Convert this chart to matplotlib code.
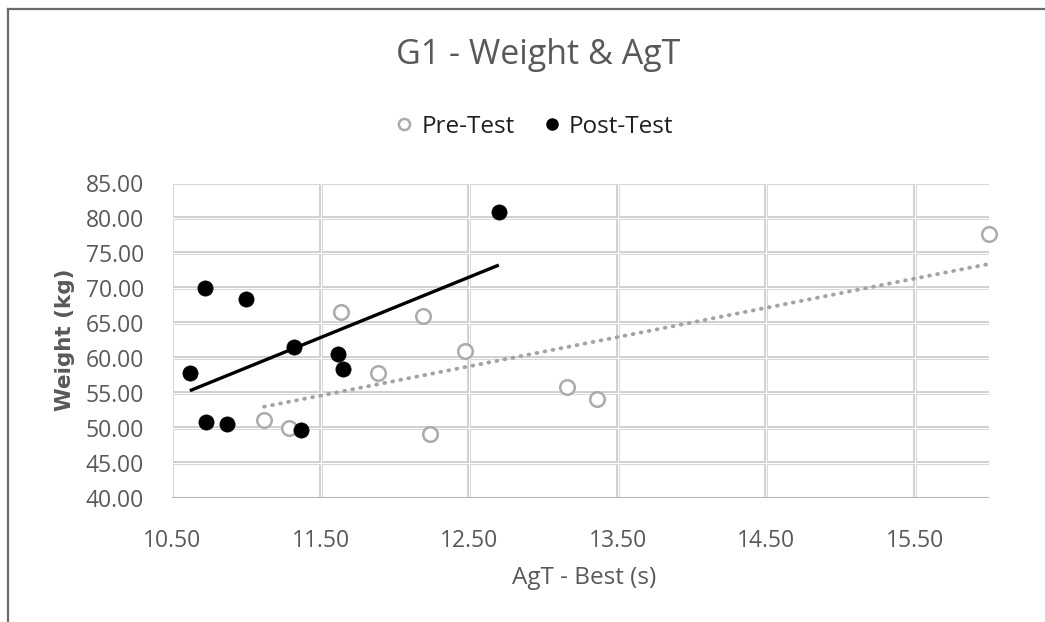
import matplotlib
matplotlib.use("Agg")
import matplotlib.pyplot as plt
import numpy as np
from matplotlib.lines import Line2D

plt.rcParams['font.family'] = ['Open Sans', 'DejaVu Sans']

# Data
pre_x = [11.64, 12.19, 12.47, 11.89, 11.12, 11.29, 12.24, 13.16, 13.36, 16.00]
pre_y = [66.6, 66.05, 61.05, 57.8, 51.2, 50.0, 49.1, 55.9, 54.2, 77.7]
post_x = [12.70, 10.72, 11.00, 11.32, 10.62, 11.62, 11.65, 10.73, 10.87, 11.37]
post_y = [80.8, 70.0, 68.4, 61.5, 57.8, 60.5, 58.4, 50.8, 50.6, 49.7]
x_ticks = [10.5, 11.5, 12.5, 13.5, 14.5, 15.5]
y_ticks = [40, 45, 50, 55, 60, 65, 70, 75, 80, 85]
title = "G1 - Weight & AgT"
x_label = "AgT - Best (s)"
y_label = "Weight (kg)"
series_names = ["Pre-Test", "Post-Test"]

W, H = 1045, 622
fig = plt.figure(figsize=(W / 100, H / 100), dpi=100)
fig.patch.set_facecolor("white")

# outer chart border (top and left visible)
fig.add_artist(Line2D([7.5 / W, 7.5 / W], [0, 1 - 8.5 / H], transform=fig.transFigure,
                      color="#6b6b6b", lw=1.6))
fig.add_artist(Line2D([7.5 / W, 1], [1 - 8.5 / H, 1 - 8.5 / H], transform=fig.transFigure,
                      color="#6b6b6b", lw=1.6))

ax = fig.add_axes([172 / W, 1 - 498 / H, (989 - 172) / W, (498 - 183) / H])
ax.set_xlim(10.5, 16.0)
ax.set_ylim(40, 85)
for s in ax.spines.values():
    s.set_visible(False)

grid_gray = "#c9c9c9"
# double-line grid: thick gray then thin white
for yv in y_ticks[1:]:
    ax.axhline(yv, color=grid_gray, lw=2.6, zorder=0.5)
for xv in x_ticks:
    ax.axvline(xv, color=grid_gray, lw=2.6, zorder=0.5)
for yv in y_ticks[1:]:
    ax.axhline(yv, color="white", lw=0.9, zorder=0.6)
for xv in x_ticks:
    ax.axvline(xv, color="white", lw=0.9, zorder=0.6)
ax.axhline(40, color="#b4b4b4", lw=2.2, zorder=0.7)

ax.set_xticks(x_ticks)
ax.set_yticks(y_ticks)
ax.set_xticklabels([f"{v:.2f}" for v in x_ticks])
ax.set_yticklabels([f"{v:.2f}" for v in y_ticks])
ax.tick_params(length=0, labelsize=16.5, labelcolor="#595959")
ax.tick_params(axis="x", pad=22)
ax.tick_params(axis="y", pad=20)

# trendlines
pp = np.polyfit(pre_x, pre_y, 1)
xx = np.array([min(pre_x), max(pre_x)])
ax.plot(xx, np.polyval(pp, xx), color="#a3a3a3", lw=2.8, ls=(0, (0.2, 1.9)),
        dash_capstyle="round", zorder=2, clip_on=False)
pq = np.polyfit(post_x, post_y, 1)
xx = np.array([min(post_x), max(post_x)])
ax.plot(xx, np.polyval(pq, xx), color="black", lw=2.4, solid_capstyle="butt", zorder=2)

ax.scatter(pre_x, pre_y, s=110, facecolor="white", edgecolor="#ababab", linewidth=1.8,
           zorder=3, clip_on=False)
ax.scatter(post_x, post_y, s=120, facecolor="black", edgecolor="black", linewidth=0.5,
           zorder=4, clip_on=False)

fig.text(538 / W, 1 - 55 / H, title, ha="center", va="center", fontsize=24.5, color="#595959")
fig.text(584 / W, 1 - 578 / H, x_label, ha="center", va="center", fontsize=17.5, color="#595959")
fig.text(65 / W, 1 - 340 / H, y_label, ha="center", va="center", fontsize=15.5, color="#595959",
         rotation=90, fontweight="bold", family=["DejaVu Sans"])

# legend
handles = [Line2D([], [], ls="none", marker="o", ms=8, mfc="white", mec="#ababab", mew=1.8),
           Line2D([], [], ls="none", marker="o", ms=8, mfc="black", mec="black")]
leg = fig.legend(handles, series_names, loc="center", bbox_to_anchor=(534 / W, 1 - 127 / H),
                 ncol=2, frameon=False, fontsize=17.5, handlelength=0.8, handletextpad=0.3,
                 columnspacing=1.15, borderpad=0, borderaxespad=0)
for t in leg.get_texts():
    t.set_color("#1f1f1f")

fig.savefig("out.png", dpi=100, facecolor="white")
